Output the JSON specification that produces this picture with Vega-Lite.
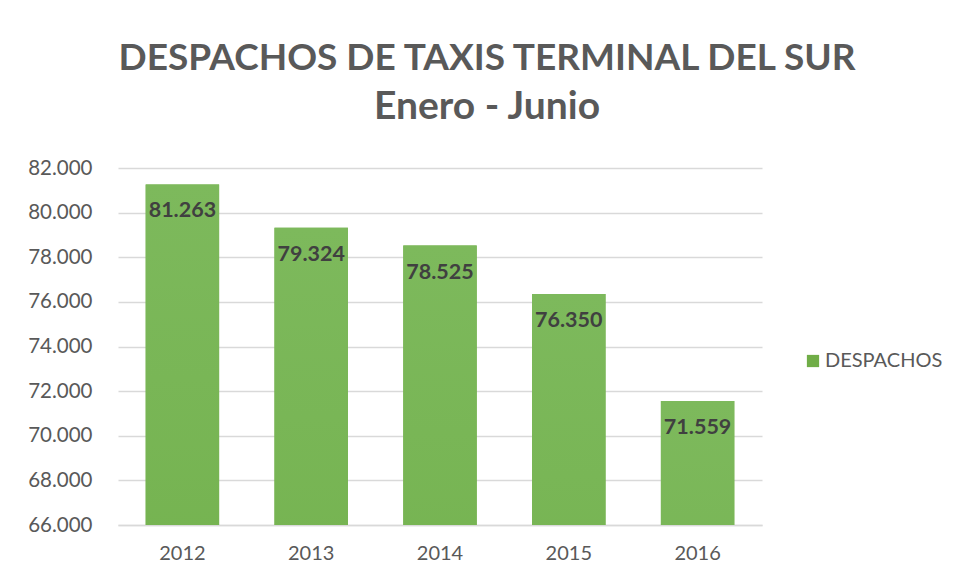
{
  "$schema": "https://vega.github.io/schema/vega-lite/v6.json",
  "width": 644,
  "height": 357,
  "autosize": {"type": "none"},
  "padding": {"left": 118, "top": 168, "right": 195, "bottom": 56},
  "background": "white",
  "config": {
    "locale": {"number": {"decimal": ",", "thousands": ".", "grouping": [3], "currency": ["", ""]}},
    "view": {"stroke": null},
    "font": "Lato"
  },
  "title": {
    "text": "DESPACHOS DE TAXIS TERMINAL DEL SUR",
    "subtitle": "Enero - Junio",
    "anchor": "middle",
    "dx": 47,
    "offset": 30,
    "font": "Lato",
    "fontSize": 37,
    "fontWeight": "bold",
    "color": "#595959",
    "subtitleFont": "Lato",
    "subtitleFontSize": 39,
    "subtitleFontWeight": "bold",
    "subtitleColor": "#595959",
    "subtitlePadding": 10
  },
  "data": {
    "values": [
      {"year": "2012", "value": 81263, "series": "DESPACHOS"},
      {"year": "2013", "value": 79324, "series": "DESPACHOS"},
      {"year": "2014", "value": 78525, "series": "DESPACHOS"},
      {"year": "2015", "value": 76350, "series": "DESPACHOS"},
      {"year": "2016", "value": 71559, "series": "DESPACHOS"}
    ]
  },
  "encoding": {
    "x": {
      "field": "year", "type": "nominal",
      "scale": {"paddingInner": 0.43, "paddingOuter": 0.215},
      "axis": {"title": null, "labelAngle": 0, "labelFontSize": 20, "labelColor": "#595959", "labelFont": "Lato",
               "domain": true, "domainColor": "#d9d9d9", "domainWidth": 1.5, "ticks": false, "labelPadding": 18}
    },
    "y": {
      "field": "value", "type": "quantitative",
      "scale": {"domain": [66000, 82000], "zero": false, "nice": false},
      "axis": {"title": null, "format": ",d", "values": [66000, 68000, 70000, 72000, 74000, 76000, 78000, 80000, 82000],
               "labelFontSize": 20.5, "labelColor": "#595959", "labelFont": "Lato", "domain": false, "ticks": false,
               "labelOverlap": false, "labelPadding": 26, "grid": true, "gridColor": "#d9d9d9", "gridWidth": 1.5}
    }
  },
  "layer": [
    {
      "mark": {"type": "bar", "clip": true},
      "encoding": {
        "color": {"field": "series", "type": "nominal", "scale": {"range": ["#70ad47"]},
          "legend": {"title": null, "orient": "none", "legendX": 685, "legendY": 183, "symbolType": "square", "symbolSize": 150,
                     "labelOffset": 2, "labelFontSize": 20, "labelColor": "#595959", "labelFont": "Lato", "symbolStrokeWidth": 0}}
      }
    },
    {
      "mark": {"type": "bar", "clip": true,
        "color": {"gradient": "linear", "x1": 0, "y1": 0, "x2": 0, "y2": 1,
                  "stops": [{"offset": 0, "color": "#7db95c"}, {"offset": 0.5, "color": "#6aab40"}, {"offset": 1, "color": "#5a9a31"}]}},
      "encoding": {}
    },
    {
      "mark": {"type": "text", "baseline": "top", "dy": 16, "fontSize": 21.5, "fontWeight": "bold", "color": "#404040", "font": "Lato"},
      "encoding": {"text": {"field": "value", "type": "quantitative", "format": ","}}
    }
  ]
}
